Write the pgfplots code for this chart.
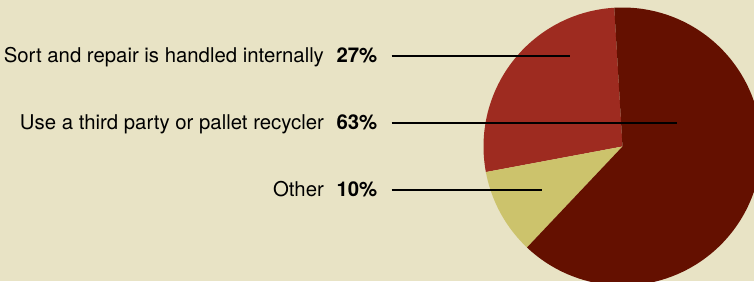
\documentclass[border=0pt]{standalone}
\usepackage{fontspec}
\setmainfont{TeX Gyre Heros}
\usepackage{pgfplots}
\pgfplotsset{compat=1.18}
\usepackage{pgfplotstable}
\definecolor{bg}{HTML}{E8E3C5}
\definecolor{darkred}{HTML}{641000}
\definecolor{midred}{HTML}{9E2B20}
\definecolor{olive}{HTML}{CCC36C}
% shares in percent, counter-clockwise from the top
\pgfplotstableread{
share
27
10
63
}\piedata
\begin{document}
\begin{tikzpicture}
\pgfplotstablegetelem{0}{share}\of\piedata \let\vA\pgfplotsretval
\pgfplotstablegetelem{1}{share}\of\piedata \let\vB\pgfplotsretval
\pgfplotstablegetelem{2}{share}\of\piedata \let\vC\pgfplotsretval
\pgfmathsetmacro\aS{93.4}
\pgfmathsetmacro\aA{\aS+3.6*\vA}
\pgfmathsetmacro\aB{\aA+3.6*\vB}
\pgfmathsetmacro\aC{\aB+3.6*\vC}
\begin{axis}[at={(0,0)}, anchor=south west, scale only axis,
  width=754pt, height=281pt, xmin=0, xmax=754, ymin=0, ymax=281,
  hide axis, clip=true]
\addplot[fill=bg, draw=none] coordinates {(0,0) (754,0) (754,281) (0,281)} -- cycle;
\addplot[fill=midred, draw=none, domain=\aS:\aA, samples=90, variable=\t]
  ({622.5+139*cos(\t)},{134.5+139*sin(\t)}) -- (axis cs:622.5,134.5) -- cycle;
\addplot[fill=olive, draw=none, domain=\aA:\aB, samples=40, variable=\t]
  ({622.5+139*cos(\t)},{134.5+139*sin(\t)}) -- (axis cs:622.5,134.5) -- cycle;
\addplot[fill=darkred, draw=none, domain=\aB:\aC, samples=180, variable=\t]
  ({622.5+139*cos(\t)},{134.5+139*sin(\t)}) -- (axis cs:622.5,134.5) -- cycle;
\addplot[black, line width=1.8pt] coordinates {(391.5,225) (570,225)};
\addplot[black, line width=1.8pt] coordinates {(391.5,158) (677,158)};
\addplot[black, line width=1.8pt] coordinates {(391.5,91) (542,91)};
\node[anchor=base east, inner sep=0pt, font=\fontsize{20.35}{24}\selectfont]
  at (axis cs:377.5,218.2) {Sort and repair is handled internally\hspace{12.7pt}\textbf{27\%}};
\node[anchor=base east, inner sep=0pt, font=\fontsize{20.35}{24}\selectfont]
  at (axis cs:377.5,151.0) {Use a third party or pallet recycler\hspace{12.7pt}\textbf{63\%}};
\node[anchor=base east, inner sep=0pt, font=\fontsize{20.35}{24}\selectfont]
  at (axis cs:377.5,84.0) {Other\hspace{12.7pt}\textbf{10\%}};
\end{axis}
\pgfresetboundingbox
\path[use as bounding box] (0,0) rectangle (754pt,281pt);
\end{tikzpicture}
\end{document}
